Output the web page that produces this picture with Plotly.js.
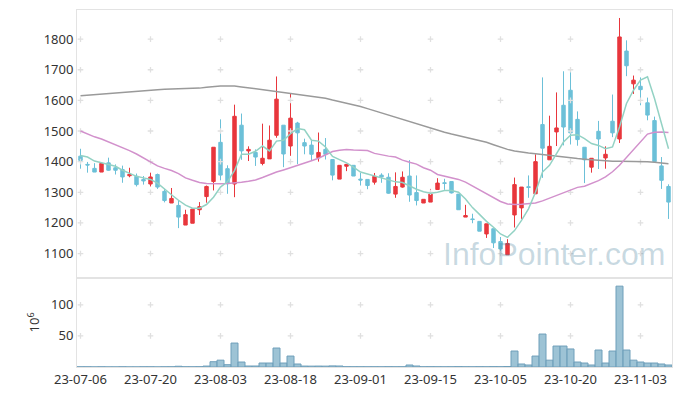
<!DOCTYPE html>
<html>
<head>
<meta charset="utf-8">
<script src="https://cdn.plot.ly/plotly-3.0.1.min.js"></script>
<style>
html,body{margin:0;padding:0;background:#fff;}
#chart{width:680px;height:396px;}
</style>
</head>
<body>
<div id="chart"></div>
<script>
const dates = ["23-07-06","23-07-07","23-07-10","23-07-11","23-07-12","23-07-13","23-07-14","23-07-17","23-07-18","23-07-19",
"23-07-20","23-07-21","23-07-24","23-07-25","23-07-26","23-07-27","23-07-28","23-07-31","23-08-01","23-08-02",
"23-08-03","23-08-04","23-08-07","23-08-08","23-08-09","23-08-10","23-08-11","23-08-14","23-08-16","23-08-17",
"23-08-18","23-08-21","23-08-22","23-08-23","23-08-24","23-08-25","23-08-28","23-08-29","23-08-30","23-08-31",
"23-09-01","23-09-04","23-09-05","23-09-06","23-09-07","23-09-08","23-09-11","23-09-12","23-09-13","23-09-14",
"23-09-15","23-09-18","23-09-19","23-09-20","23-09-21","23-09-22","23-09-25","23-09-26","23-09-27","23-10-04",
"23-10-05","23-10-06","23-10-10","23-10-11","23-10-12","23-10-13","23-10-16","23-10-17","23-10-18","23-10-19",
"23-10-20","23-10-23","23-10-24","23-10-25","23-10-26","23-10-27","23-10-30","23-10-31","23-11-01","23-11-02",
"23-11-03","23-11-06","23-11-07","23-11-08","23-11-09"];

const openP = [1418,1391,1378,1366,1396,1380,1374,1354,1352,1342,
1327,1358,1303,1265,1257,1193,1199,1243,1286,1335,
1463,1377,1327,1519,1435,1430,1394,1409,1486,1519,
1451,1526,1462,1454,1413,1440,1407,1343,1385,1388,
1343,1342,1333,1356,1349,1294,1317,1353,1299,1265,
1268,1309,1331,1335,1294,1219,1213,1205,1164,1181,
1139,1096,1226,1249,1318,1295,1521,1406,1497,1584,
1633,1538,1447,1382,1499,1412,1532,1474,1761,1654,
1646,1592,1534,1386,1319];
const highP = [1442,1399,1395,1394,1413,1391,1387,1380,1361,1353,
1364,1361,1311,1314,1273,1243,1245,1268,1322,1447,
1538,1388,1586,1557,1450,1440,1524,1518,1678,1519,
1623,1530,1475,1470,1495,1477,1407,1388,1391,1388,
1363,1342,1363,1362,1362,1365,1368,1405,1355,1277,
1311,1346,1344,1335,1294,1259,1230,1205,1197,1181,
1154,1147,1348,1317,1355,1424,1675,1550,1626,1695,
1695,1564,1447,1411,1533,1450,1619,1869,1796,1681,
1675,1609,1547,1415,1326];
const lowP = [1377,1364,1366,1366,1370,1358,1331,1349,1319,1325,
1319,1311,1267,1265,1183,1193,1199,1226,1266,1306,
1339,1295,1284,1406,1402,1386,1388,1409,1478,1382,
1419,1392,1424,1404,1400,1407,1339,1343,1369,1353,
1322,1310,1325,1331,1295,1282,1315,1269,1257,1265,
1268,1309,1308,1296,1243,1219,1199,1173,1151,1118,
1104,1096,1185,1213,1282,1295,1347,1406,1451,1453,
1456,1452,1330,1364,1376,1377,1480,1461,1679,1621,
1584,1535,1400,1311,1213];
const closeP = [1404,1389,1366,1394,1372,1372,1350,1358,1325,1337,
1350,1317,1273,1280,1219,1227,1245,1253,1319,1447,
1356,1328,1548,1435,1440,1415,1411,1470,1604,1425,
1542,1494,1451,1424,1430,1424,1356,1388,1391,1353,
1340,1322,1352,1350,1297,1319,1349,1291,1273,1277,
1294,1330,1329,1298,1243,1224,1211,1173,1197,1135,
1115,1133,1325,1317,1316,1400,1444,1450,1510,1513,
1494,1472,1406,1411,1474,1424,1494,1807,1713,1666,
1635,1552,1400,1339,1268];

const ma5 = [1420,1415,1402,1396,1392,1385,1372,1362,1352,1347,
1342,1330,1310,1292,1274,1258,1248,1248,1260,1284,
1317,1335,1371,1424,1424,1434,1451,1435,1467,1470,
1491,1508,1504,1470,1467,1448,1417,1406,1396,1382,
1366,1360,1354,1348,1340,1334,1332,1320,1310,1302,
1297,1300,1306,1306,1300,1278,1250,1228,1205,1186,
1164,1153,1175,1208,1246,1300,1366,1388,1424,1464,
1486,1488,1475,1459,1453,1442,1448,1513,1590,1633,
1666,1677,1606,1524,1442];
const ma20 = [1500,1490,1481,1474,1465,1455,1445,1436,1425,1412,
1398,1386,1378,1371,1361,1347,1339,1332,1329,1328,
1328,1329,1330,1333,1336,1340,1348,1358,1366,1373,
1380,1387,1396,1403,1411,1422,1433,1437,1440,1438,
1436,1436,1427,1422,1418,1415,1405,1398,1392,1380,
1372,1358,1352,1347,1342,1333,1320,1307,1294,1283,
1270,1262,1260,1261,1263,1265,1272,1281,1291,1300,
1307,1316,1320,1328,1338,1350,1367,1388,1413,1437,
1463,1490,1496,1497,1495];
const ma120 = [1615,1617,1618,1620,1622,1624,1627,1629,1631,1633,
1634,1635,1636,1637,1637,1638,1638,1640,1643,1646,
1647,1647,1647,1644,1641,1638,1636,1633,1630,1627,
1624,1621,1618,1615,1611,1607,1601,1596,1590,1584,
1580,1573,1566,1559,1551,1544,1537,1530,1522,1515,
1508,1502,1496,1490,1485,1480,1475,1470,1463,1455,
1447,1440,1435,1431,1428,1426,1423,1421,1418,1415,
1412,1410,1408,1406,1404,1402,1401,1401,1401,1401,
1400,1400,1398,1396,1393];

// volume in 10^6
const volume = [0.3,0.3,0.2,0.3,0.2,0.2,0.3,0.2,0.2,0.3,
0.3,0.2,0.3,0.4,1.2,0.4,0.3,0.5,1.5,8.5,
11,3.7,38.5,8,1.6,1.6,6.4,6.4,30.5,6.4,
17.6,4.8,1.5,1.4,1.5,1.4,1.8,1.6,0.5,0.4,
0.4,0.3,0.4,0.3,0.5,0.4,0.4,3.2,1.6,0.4,
0.5,0.4,0.3,0.4,0.6,0.4,0.3,0.5,0.4,0.6,
0.5,0.8,25.7,4.8,3.2,17.6,53,11,33.7,33.7,
29,8,6.4,3.2,27.3,6.4,25.7,130,27.3,11,
8,6.4,6.4,4.8,3.2];

const xTicks = ["23-07-06","23-07-20","23-08-03","23-08-18","23-09-01","23-09-15","23-10-05","23-10-20","23-11-03"];
const priceTicks = [1100,1200,1300,1400,1500,1600,1700,1800];
const volTicks = [50,100];
const watermark = "InfoPointer.com";

const upColor = "#e8363c";
const downColor = "#6cc0d8";

// grid cross markers at tick intersections
function crosses(yt, xa, ya){
  const xs=[], ys=[];
  xTicks.forEach(x=>yt.forEach(y=>{xs.push(x);ys.push(y);}));
  return {type:"scatter",mode:"markers",x:xs,y:ys,xaxis:xa,yaxis:ya,hoverinfo:"skip",showlegend:false,
    marker:{symbol:"cross-thin",size:4,color:"#e0e0e0",line:{color:"#e0e0e0",width:1.3}}};
}

const traces = [
  crosses(priceTicks,"x","y"),
  crosses(volTicks,"x2","y2"),
  {type:"scatter",mode:"lines",x:dates,y:ma120,xaxis:"x",yaxis:"y",line:{color:"#9a9a9a",width:1.5},hoverinfo:"skip",showlegend:false},
  {type:"scatter",mode:"lines",x:dates,y:ma20,xaxis:"x",yaxis:"y",line:{color:"#d291cc",width:1.5},hoverinfo:"skip",showlegend:false},
  {type:"scatter",mode:"lines",x:dates,y:ma5,xaxis:"x",yaxis:"y",line:{color:"#93d2c4",width:1.5},hoverinfo:"skip",showlegend:false},
  {type:"candlestick",x:dates,open:openP,high:highP,low:lowP,close:closeP,xaxis:"x",yaxis:"y",
    increasing:{line:{color:upColor,width:1},fillcolor:upColor},
    decreasing:{line:{color:downColor,width:1},fillcolor:downColor},
    whiskerwidth:0,showlegend:false},
  {type:"bar",x:dates,y:volume,xaxis:"x2",yaxis:"y2",showlegend:false,
    marker:{color:"rgba(140,184,206,0.85)",line:{color:"#6f9fba",width:1}}}
];

const axisCommon = {showgrid:false,zeroline:false,showline:true,mirror:true,linecolor:"#e3e3e3",linewidth:1,
  ticks:"",tickfont:{family:"Noto Sans, DejaVu Sans, sans-serif",size:13,color:"#333"}};

const layout = {
  width:680,height:396,
  margin:{l:77,r:8,t:10,b:29},
  paper_bgcolor:"#fff",plot_bgcolor:"#fff",
  showlegend:false,
  bargap:0,
  xaxis:Object.assign({},axisCommon,{type:"category",categoryarray:dates,range:[-0.5,84.5],anchor:"y",
    rangeslider:{visible:false},showticklabels:false,tickvals:xTicks}),
  yaxis:Object.assign({},axisCommon,{domain:[0.25,1],range:[1021,1895],tickvals:priceTicks,ticksuffix:"  "}),
  xaxis2:Object.assign({},axisCommon,{type:"category",categoryarray:dates,range:[-0.5,84.5],anchor:"y2",
    tickvals:xTicks,ticktext:xTicks}),
  yaxis2:Object.assign({},axisCommon,{domain:[0,0.25],range:[0,143.5],tickvals:volTicks,ticksuffix:"  ",
    title:{text:"10<sup>6</sup>",font:{family:"Noto Sans, DejaVu Sans, sans-serif",size:13,color:"#333"},standoff:8}}),
  annotations:[{text:watermark,xref:"paper",yref:"paper",x:0.802,y:0.317,xanchor:"center",yanchor:"middle",
    showarrow:false,font:{family:"Liberation Sans, Arial, sans-serif",size:32,color:"rgba(60,120,150,0.28)"}}]
};

Plotly.newPlot("chart",traces,layout,{staticPlot:true,displayModeBar:false});
</script>
</body>
</html>
